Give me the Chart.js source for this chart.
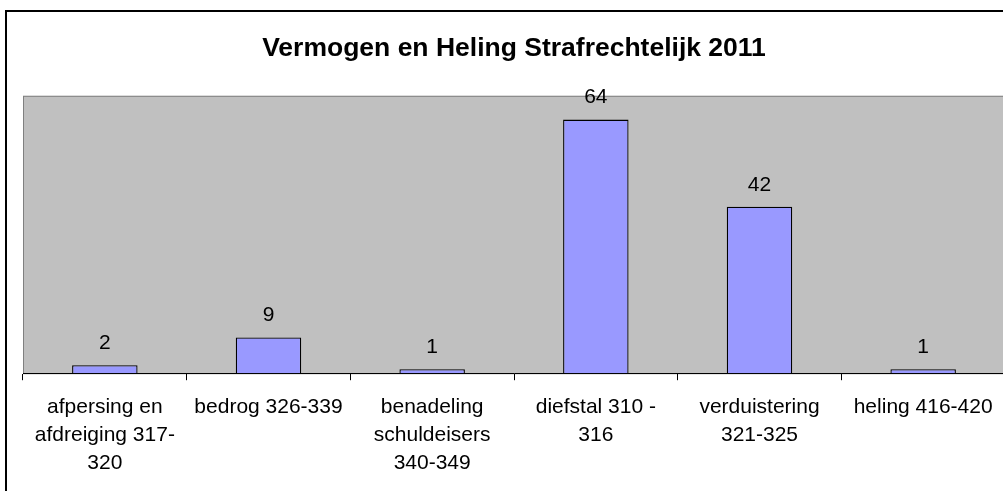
<!DOCTYPE html>
<html>
<head>
<meta charset="utf-8">
<script src="https://cdn.jsdelivr.net/npm/chart.js@4"></script>
<style>
  html, body { margin: 0; padding: 0; background: #fff; overflow: hidden; }
  #frame { position: absolute; left: 5px; top: 10px; width: 1016px; height: 500px;
           border-left: 2px solid #000; border-top: 2px solid #000; }
  #wrap { position: absolute; left: 0; top: 0; width: 1016px; height: 490px; }
</style>
</head>
<body>
<div id="frame"><div id="wrap"><canvas id="chart"></canvas></div></div>
<script>
/* Vermogen en Heling Strafrechtelijk 2011 — bar chart */
var categories = [
    ['afpersing en', 'afdreiging 317-', '320'],
    'bedrog 326-339',
    ['benadeling', 'schuldeisers', '340-349'],
    ['diefstal 310 -', '316'],
    ['verduistering', '321-325'],
    'heling 416-420'
];
var counts = [2, 9, 1, 64, 42, 1];
var yMax = 70;

var FONT = 'Liberation Sans, Arial, sans-serif';

// gray plot area with thin border, like the old Excel look
var plotBackground = {
    id: 'plotBackground',
    beforeDraw: function(chart) {
        var a = chart.chartArea, ctx = chart.ctx;
        ctx.save();
        ctx.fillStyle = '#C0C0C0';
        ctx.fillRect(a.left, a.top, a.right - a.left, a.bottom - a.top);
        ctx.strokeStyle = '#808080';
        ctx.lineWidth = 1;
        ctx.strokeRect(a.left + 0.5, a.top + 0.5, a.right - a.left - 1, a.bottom - a.top);
        ctx.restore();
    }
};

// value labels above the bars
var valueLabels = {
    id: 'valueLabels',
    afterDatasetsDraw: function(chart) {
        var ctx = chart.ctx;
        ctx.save();
        ctx.font = '21px ' + FONT;
        ctx.fillStyle = '#000';
        ctx.textAlign = 'center';
        ctx.textBaseline = 'middle';
        chart.getDatasetMeta(0).data.forEach(function(bar, i) {
            ctx.fillText(String(counts[i]), bar.x, bar.y - 22);
        });
        ctx.restore();
    }
};

new Chart(document.getElementById('chart').getContext('2d'), {
    type: 'bar',
    data: {
        labels: categories,
        datasets: [{
            data: counts,
            backgroundColor: '#9999FF',
            borderColor: '#000',
            borderWidth: 1.3,
            barPercentage: 0.4,
            categoryPercentage: 1
        }]
    },
    options: {
        responsive: true,
        maintainAspectRatio: false,
        animation: false,
        layout: { padding: { left: 16, right: 18, top: 0, bottom: 12 } },
        plugins: {
            legend: { display: false },
            tooltip: { enabled: false },
            title: {
                display: true,
                text: 'Vermogen en Heling Strafrechtelijk 2011',
                color: '#000',
                font: { family: FONT, size: 26.5, weight: 'bold', lineHeight: 1.2 },
                padding: { top: 21, bottom: 31 }
            }
        },
        scales: {
            x: {
                offset: true,
                grid: { offset: true, drawOnChartArea: false, drawTicks: true, tickLength: 7, color: '#000' },
                border: { color: '#000', width: 1 },
                ticks: {
                    color: '#000',
                    maxRotation: 0,
                    autoSkip: false,
                    padding: 13,
                    font: { family: FONT, size: 21, lineHeight: 1.33 }
                }
            },
            y: {
                display: false,
                min: 0,
                max: yMax
            }
        }
    },
    plugins: [plotBackground, valueLabels]
});
</script>
</body>
</html>
